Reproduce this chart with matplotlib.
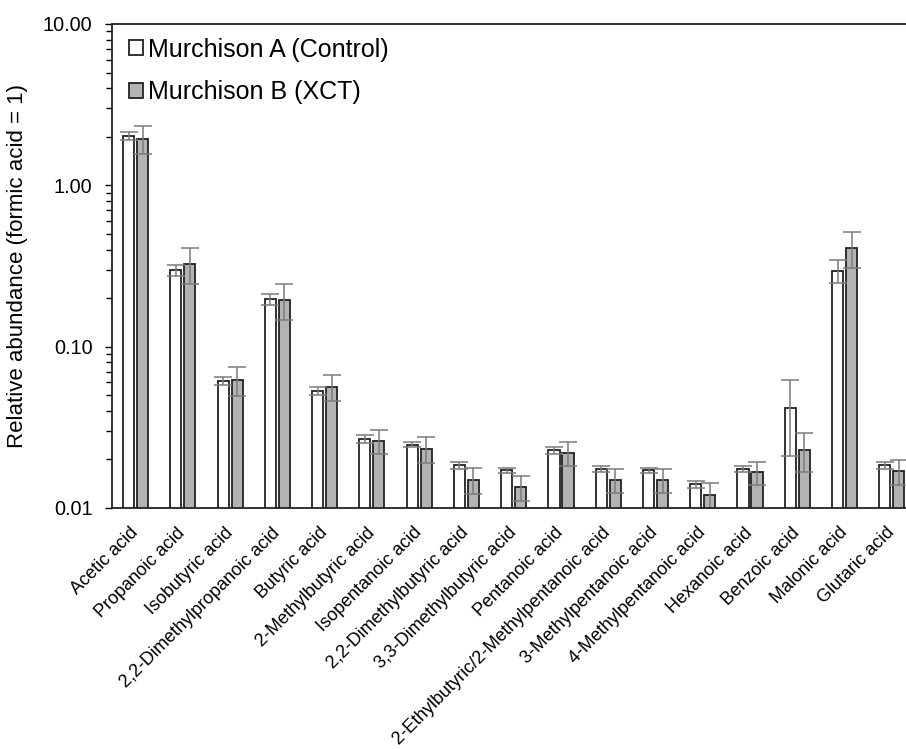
import matplotlib
matplotlib.use('Agg')
import matplotlib.pyplot as plt
import numpy as np
from matplotlib.ticker import FixedLocator, LogLocator, NullFormatter

plt.rcParams['font.family'] = ['Liberation Sans', 'DejaVu Sans']

acids = ["Acetic acid", "Propanoic acid", "Isobutyric acid", "2,2-Dimethylpropanoic acid",
         "Butyric acid", "2-Methylbutyric acid", "Isopentanoic acid", "2,2-Dimethylbutyric acid",
         "3,3-Dimethylbutyric acid", "Pentanoic acid", "2-Ethylbutyric/2-Methylpentanoic acid",
         "3-Methylpentanoic acid", "4-Methylpentanoic acid", "Hexanoic acid", "Benzoic acid",
         "Malonic acid", "Glutaric acid"]

# relative abundances (formic acid = 1)
murch_a = [2.02, 0.297, 0.0613, 0.196, 0.0534, 0.0269, 0.0247, 0.0184, 0.0171, 0.0228,
           0.0175, 0.0171, 0.0140, 0.0175, 0.0415, 0.295, 0.0184]
murch_a_err = [0.12, 0.024, 0.0036, 0.015, 0.003, 0.0016, 0.0009, 0.001, 0.0007, 0.0012,
               0.0008, 0.0007, 0.0007, 0.0008, 0.0204, 0.048, 0.001]
murch_b = [1.95, 0.326, 0.0622, 0.195, 0.0565, 0.0261, 0.0233, 0.0149, 0.0134, 0.0218,
           0.0149, 0.0149, 0.0121, 0.0166, 0.0230, 0.409, 0.0169]
murch_b_err = [0.39, 0.08, 0.0126, 0.049, 0.0106, 0.0045, 0.0042, 0.0027, 0.0024, 0.0037,
               0.0025, 0.0025, 0.0022, 0.0028, 0.0063, 0.103, 0.003]

x = np.arange(len(acids))
w = 0.235
off = 0.148

fig = plt.figure(figsize=(9.06, 7.49), dpi=100)
ax = fig.add_axes([0.1236, 0.3218, 0.8764, 0.6462])

err_kw = dict(ecolor='#7a7a7a', elinewidth=1.1, capsize=6.5, capthick=1.1)
ax.bar(x - off, murch_a, w, color='white', edgecolor='#222222', linewidth=1.3,
       yerr=murch_a_err, error_kw=err_kw, label='Murchison A (Control)')
ax.bar(x + off, murch_b, w, color='#b3b3b5', edgecolor='#222222', linewidth=1.3,
       yerr=murch_b_err, error_kw=err_kw, label='Murchison B (XCT)')

ax.set_yscale('log')
ax.set_ylim(0.01, 10)
ax.set_xlim(-0.5, 16.3)
ax.yaxis.set_major_locator(FixedLocator([0.01, 0.1, 1, 10]))
ax.set_yticklabels(['0.01', '0.10', '1.00', '10.00'])
ax.yaxis.set_minor_locator(LogLocator(base=10, subs=np.arange(2, 10)))
ax.yaxis.set_minor_formatter(NullFormatter())
ax.tick_params(axis='y', which='major', direction='out', length=5, width=1, labelsize=14.3, pad=9)
ax.tick_params(axis='y', which='minor', direction='out', length=4, width=1)

ax.set_xticks(x)
ax.set_xticklabels(acids, rotation=45, ha='right', va='center', rotation_mode='anchor', fontsize=13)
ax.tick_params(axis='x', length=0, pad=16)

ax.set_ylabel('Relative abundance (formic acid = 1)', fontsize=16, labelpad=11)

for s in ['left', 'bottom', 'top']:
    ax.spines[s].set_linewidth(1.3)
    ax.spines[s].set_color('#222222')
ax.spines['right'].set_visible(False)

ax.legend(loc='upper left', bbox_to_anchor=(-0.004, 1.013), frameon=False, fontsize=18,
          handlelength=0.55, handleheight=0.55, handletextpad=0.2, labelspacing=0.75,
          borderaxespad=0.4)

plt.savefig('out.png', dpi=100)
